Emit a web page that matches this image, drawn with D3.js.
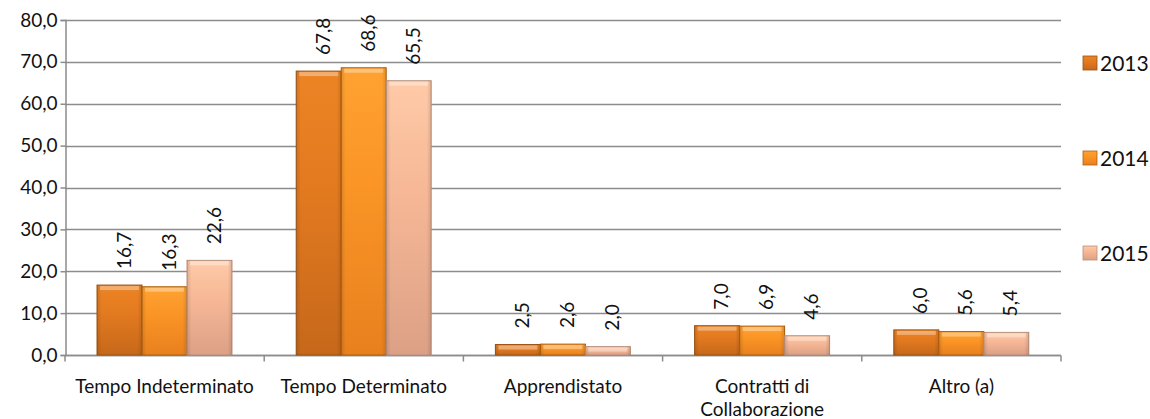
<!DOCTYPE html>
<meta charset="utf-8">
<script src="https://d3js.org/d3.v7.min.js"></script>
<style>
  body { margin: 0; background: #fff; }
  text { font-family: Lato, "Open Sans", sans-serif; fill: #111; }
</style>
<div id="chart"></div>
<script>
  // data
  var categories = ["Tempo Indeterminato", "Tempo Determinato", "Apprendistato", "Contratti di|Collaborazione", "Altro (a)"];
  var years = ["2013", "2014", "2015"];
  var v2013 = [16.7, 67.8, 2.5, 7.0, 6.0];
  var v2014 = [16.3, 68.6, 2.6, 6.9, 5.6];
  var v2015 = [22.6, 65.5, 2.0, 4.6, 5.4];
  var yTicks = [0, 10, 20, 30, 40, 50, 60, 70, 80];

  var series = [v2013, v2014, v2015];
  var colors = [
    {top: "#ec8424", mid: "#e37a20", bot: "#c6681a", edge: "#9c5214"},
    {top: "#ffa232", mid: "#fa9526", bot: "#e8801e", edge: "#b0600f"},
    {top: "#ffcaa8", mid: "#f6b896", bot: "#dca086", edge: "#b8907c"}
  ];

  var W = 1150, H = 419;
  var svg = d3.select("#chart").append("svg").attr("width", W).attr("height", H);

  var x0 = d3.scaleBand().domain(d3.range(categories.length)).range([65, 1061]);
  var x1 = d3.scaleBand().domain(d3.range(years.length)).range([32, 167]);
  var y = d3.scaleLinear().domain([0, 80]).range([355, 20]);

  var fmt = function(d) { return d3.format(".1f")(d).replace(".", ","); };

  // gradients
  var defs = svg.append("defs");
  colors.forEach(function(c, i) {
    var g = defs.append("linearGradient").attr("id", "g" + i)
      .attr("x1", 0).attr("y1", 0).attr("x2", 0).attr("y2", 1);
    g.append("stop").attr("offset", "0%").attr("stop-color", c.top);
    g.append("stop").attr("offset", "40%").attr("stop-color", c.mid);
    g.append("stop").attr("offset", "100%").attr("stop-color", c.bot);
  });
  var side = defs.append("linearGradient").attr("id", "side")
    .attr("x1", 0).attr("y1", 0).attr("x2", 1).attr("y2", 0);
  side.append("stop").attr("offset", "0%").attr("stop-color", "#000").attr("stop-opacity", 0.12);
  side.append("stop").attr("offset", "10%").attr("stop-color", "#000").attr("stop-opacity", 0);
  side.append("stop").attr("offset", "90%").attr("stop-color", "#000").attr("stop-opacity", 0);
  side.append("stop").attr("offset", "100%").attr("stop-color", "#000").attr("stop-opacity", 0.12);

  // gridlines
  svg.append("g").selectAll("line").data(yTicks).enter().append("line")
    .attr("x1", 65).attr("x2", 1061)
    .attr("y1", function(d) { return Math.round(y(d)) + 0.5; })
    .attr("y2", function(d) { return Math.round(y(d)) + 0.5; })
    .attr("stroke", "#8c8c8c").attr("stroke-width", 1.5);

  // y axis
  var yAxis = svg.append("g").attr("transform", "translate(65.5,0)")
    .call(d3.axisLeft(y).tickValues(yTicks).tickFormat(fmt).tickSize(5).tickPadding(3));
  yAxis.selectAll("path, line").attr("stroke", "#8c8c8c").attr("stroke-width", 1.5);
  yAxis.selectAll("text").style("font-size", "19px").attr("fill", "#111");

  // x axis
  var xAxis = svg.append("g").attr("transform", "translate(0," + (y(0) + 0.5) + ")");
  xAxis.append("line").attr("x1", 65).attr("x2", 1061).attr("stroke", "#8c8c8c").attr("stroke-width", 1.5);
  xAxis.selectAll(".tk").data(d3.range(categories.length + 1)).enter().append("line")
    .attr("x1", function(d) { return d < categories.length ? x0(d) : x0.range()[1]; })
    .attr("x2", function(d) { return d < categories.length ? x0(d) : x0.range()[1]; })
    .attr("y1", 0).attr("y2", 6).attr("stroke", "#8c8c8c").attr("stroke-width", 1.5);
  xAxis.selectAll(".lbl").data(categories).enter().append("text")
    .attr("text-anchor", "middle").style("font-size", "19px")
    .attr("transform", function(d, i) { return "translate(" + (x0(i) + x0.bandwidth() / 2) + ",37)"; })
    .each(function(d) {
      var t = d3.select(this);
      d.split("|").forEach(function(s, k) {
        t.append("tspan").attr("x", 0).attr("dy", k ? 23 : 0).text(s);
      });
    });

  // bars
  series.forEach(function(vals, s) {
    var g = svg.append("g");
    var bx = function(d, i) { return x0(i) + x1(s); };
    g.selectAll("rect.b").data(vals).enter().append("rect")
      .attr("x", bx).attr("y", function(d) { return y(d); })
      .attr("width", x1.bandwidth()).attr("height", function(d) { return y(0) - y(d); })
      .attr("fill", "url(#g" + s + ")")
      .attr("stroke", colors[s].edge).attr("stroke-width", 1);
    g.selectAll("rect.s").data(vals).enter().append("rect")
      .attr("x", bx).attr("y", function(d) { return y(d); })
      .attr("width", x1.bandwidth()).attr("height", function(d) { return y(0) - y(d); })
      .attr("fill", "url(#side)");
    g.selectAll("rect.h").data(vals).enter().append("rect")
      .attr("x", function(d, i) { return bx(d, i) + 3; }).attr("y", function(d) { return y(d) + 1; })
      .attr("width", x1.bandwidth() - 6).attr("height", 4)
      .attr("fill", "#fff").attr("opacity", 0.35);
    g.selectAll("text").data(vals).enter().append("text")
      .attr("transform", function(d, i) {
        return "translate(" + (bx(d, i) + x1.bandwidth() / 2 + 11) + "," + (y(d) - 16) + ") rotate(-90)";
      })
      .style("font-size", "19px")
      .text(fmt);
  });

  // legend
  var leg = svg.append("g").selectAll("g").data(years).enter().append("g")
    .attr("transform", function(d, i) { return "translate(1083," + (63 + i * 95) + ")"; });
  leg.append("rect").attr("x", 0).attr("y", -7).attr("width", 14).attr("height", 14)
    .attr("fill", function(d, i) { return "url(#g" + i + ")"; })
    .attr("stroke", function(d, i) { return colors[i].edge; }).attr("stroke-width", 0.8);
  leg.append("text").attr("x", 17).attr("y", 8).style("font-size", "21px").text(function(d) { return d; });
</script>
